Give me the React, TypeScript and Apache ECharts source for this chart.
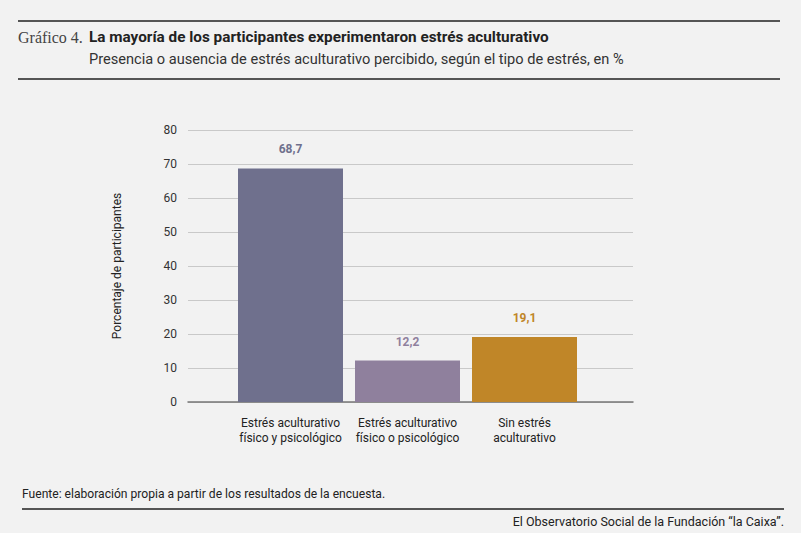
import React, { useEffect, useRef } from "react";
import * as echarts from "echarts";

const categories = [
  "Estrés aculturativo\nfísico y psicológico",
  "Estrés aculturativo\nfísico o psicológico",
  "Sin estrés\naculturativo",
];
const values = [68.7, 12.2, 19.1];
const barColors = ["#6f708d", "#8f809d", "#c08628"];
const yMin = 0;
const yMax = 80;
const yInterval = 10;

const titleText = "La mayoría de los participantes experimentaron estrés aculturativo";
const subtitleText =
  "Presencia o ausencia de estrés aculturativo percibido, según el tipo de estrés, en %";
const sourceText = "Fuente: elaboración propia a partir de los resultados de la encuesta.";
const creditText = "El Observatorio Social de la Fundación “la Caixa”.";
const yName = "Porcentaje de participantes";

const SANS = 'Roboto, "Liberation Sans", sans-serif';
const SERIF = '"Liberation Serif", "DejaVu Serif", serif';

export default function App() {
  const ref = useRef<HTMLDivElement>(null);
  useEffect(() => {
    document.body.style.margin = "0";
    if (!ref.current) return;
    const chart = echarts.init(ref.current, null, { renderer: "svg" });
    const lineStyle = { stroke: "#555555", lineWidth: 2 };
    chart.setOption({
      animation: false,
      backgroundColor: "#f2f2f2",
      textStyle: { fontFamily: SANS },
      grid: [
        { left: 188, right: 168, top: 130, bottom: 131 },
        { left: 232, right: 218, top: 130, bottom: 131 },
      ],
      xAxis: [
        {
          gridIndex: 0,
          type: "category",
          data: [""],
          axisLine: { show: true, lineStyle: { color: "#777777", width: 1.5 } },
          axisTick: { show: false },
          axisLabel: { show: false },
          splitLine: { show: false },
        },
        {
          gridIndex: 1,
          type: "category",
          data: categories,
          axisLine: { show: false },
          axisTick: { show: false },
          axisLabel: {
            interval: 0,
            margin: 13,
            fontSize: 12,
            lineHeight: 15,
            color: "#222222",
            fontFamily: SANS,
          },
        },
      ],
      yAxis: [
        {
          gridIndex: 0,
          type: "value",
          min: yMin,
          max: yMax,
          interval: yInterval,
          name: yName,
          nameLocation: "middle",
          nameGap: 65,
          nameTextStyle: { fontSize: 12, color: "#222222", fontFamily: SANS },
          axisLine: { show: false },
          axisTick: { show: false },
          axisLabel: { margin: 11, fontSize: 12, color: "#333333", fontFamily: SANS },
          splitLine: { lineStyle: { color: "#c9c9c9", width: 1 } },
        },
        {
          gridIndex: 1,
          type: "value",
          min: yMin,
          max: yMax,
          show: false,
          splitLine: { show: false },
        },
      ],
      series: [
        {
          type: "bar",
          xAxisIndex: 1,
          yAxisIndex: 1,
          barWidth: 105,
          data: values.map((v, i) => ({
            value: v,
            itemStyle: { color: barColors[i] },
            label: { color: barColors[i] },
          })),
          label: {
            show: true,
            position: "top",
            distance: 13,
            fontSize: 12,
            fontWeight: "bold",
            fontFamily: SANS,
            formatter: (p: any) => Number(p.value).toFixed(1).replace(".", ","),
          },
        },
      ],
      graphic: [
        { type: "line", shape: { x1: 18, y1: 21, x2: 780, y2: 21 }, style: lineStyle },
        { type: "line", shape: { x1: 18, y1: 79, x2: 780, y2: 79 }, style: lineStyle },
        { type: "line", shape: { x1: 22, y1: 509, x2: 784, y2: 509 }, style: lineStyle },
        {
          type: "text",
          x: 18,
          y: 37,
          style: {
            text: "Gráfico 4.",
            fontFamily: SERIF,
            fontSize: 16,
            fill: "#444444",
            verticalAlign: "middle",
          },
        },
        {
          type: "text",
          x: 89,
          y: 37,
          style: {
            text: titleText,
            fontFamily: SANS,
            fontSize: 15.3,
            fontWeight: "bold",
            fill: "#222222",
            verticalAlign: "middle",
          },
        },
        {
          type: "text",
          x: 89,
          y: 59,
          style: {
            text: subtitleText,
            fontFamily: SANS,
            fontSize: 14.6,
            fill: "#333333",
            verticalAlign: "middle",
          },
        },
        {
          type: "text",
          x: 22,
          y: 494,
          style: {
            text: sourceText,
            fontFamily: SANS,
            fontSize: 12.1,
            fill: "#222222",
            verticalAlign: "middle",
          },
        },
        {
          type: "text",
          x: 784,
          y: 521,
          style: {
            text: creditText,
            fontFamily: SANS,
            fontSize: 12.5,
            fill: "#222222",
            align: "right",
            verticalAlign: "middle",
          },
        },
      ],
    });
    return () => chart.dispose();
  }, []);
  return <div ref={ref} style={{ width: 801, height: 533 }} />;
}
